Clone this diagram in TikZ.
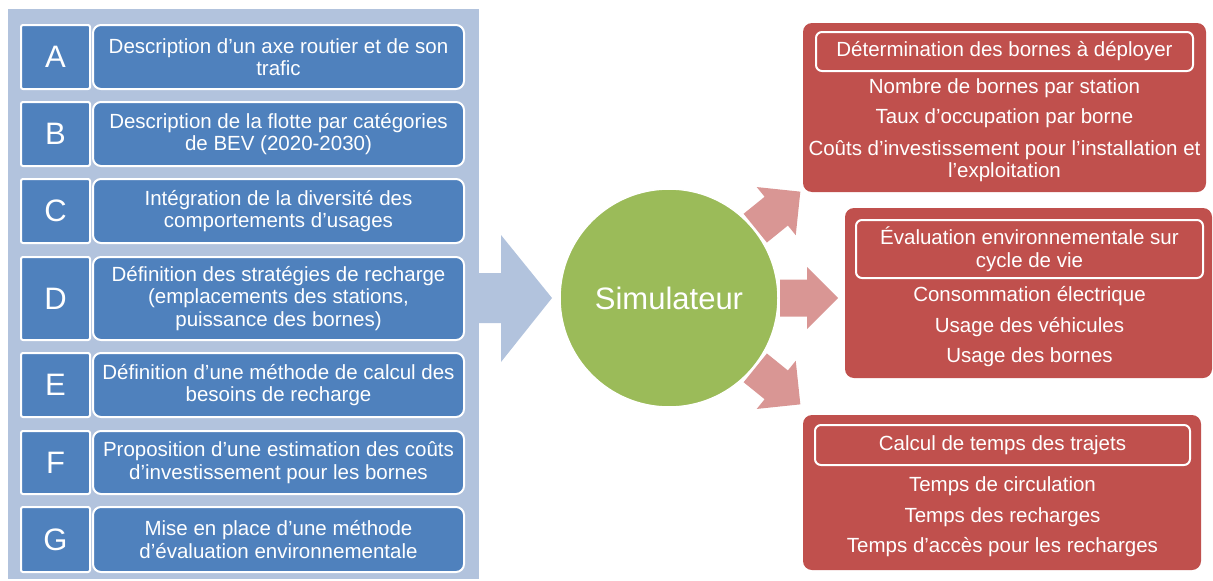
\documentclass[tikz,border=0pt]{standalone}
\usepackage{fontspec}
\setmainfont{Liberation Sans}
\usepackage{tikz}
\usetikzlibrary{positioning,calc}
\definecolor{panelblue}{HTML}{B2C3DD}
\definecolor{boxblue}{HTML}{4F81BD}
\definecolor{resred}{HTML}{C0504D}
\definecolor{arrowpink}{HTML}{D99694}
\definecolor{simgreen}{HTML}{9BBB59}
\newcommand{\txtsize}{\fontsize{20.5}{22.5}\selectfont}
\newcommand{\bigsize}{\fontsize{31}{34}\selectfont}

\tikzset{
  panelbox/.style={fill=panelblue, draw=none, inner sep=0pt, outer sep=0pt},
  letterbox/.style={fill=boxblue, draw=white, line width=2pt, rounded corners=2pt,
    minimum width=69pt, inner sep=0pt, outer sep=0pt, text=white, font=\bigsize},
  taskbox/.style={fill=boxblue, draw=white, line width=2pt, rounded corners=8pt,
    minimum width=371pt, inner sep=0pt, outer sep=0pt, text=white, align=center, font=\txtsize},
  simcircle/.style={circle, fill=simgreen, draw=white, line width=1.5pt, minimum size=218pt,
    inner sep=0pt, outer sep=0pt, text=white, font=\bigsize},
  inarrow/.style={fill=panelblue},
  outarrow/.style={fill=arrowpink},
  resbox/.style={fill=resred, draw=none, rounded corners=9pt, inner sep=0pt, outer sep=0pt},
  headbox/.style={draw=white, line width=2pt, rounded corners=6pt, inner sep=0pt,
    text=white, align=center, font=\txtsize},
  resline/.style={text=white, align=center, inner sep=0pt, font=\txtsize},
}

\begin{document}
\begin{tikzpicture}[x=1pt,y=-1pt]
\useasboundingbox (0,0) rectangle (1213,581);

% 1. Input panel (behind the rows)
\node[panelbox, minimum width=471pt, minimum height=570pt] (panel) at (243.5,294) {};

% 2. Rows A-G: letter + description
\foreach \lett/\yc/\hh/\rowtxt in {
  A/57/64/{Description d’un axe routier et de son\\trafic},
  B/134/64/{Description de la flotte par catégories\\de BEV (2020-2030)},
  C/211/64/{Intégration de la diversité des\\comportements d’usages},
  D/298.5/83/{Définition des stratégies de recharge\\(emplacements des stations,\\puissance des bornes)},
  E/385/64/{Définition d’une méthode de calcul des\\besoins de recharge},
  F/462.5/63/{Proposition d’une estimation des coûts\\d’investissement pour les bornes},
  G/539.5/65/{Mise en place d’une méthode\\d’évaluation environnementale}} {
  \node[letterbox, minimum height=\hh pt] (let\lett) at (55.5,\yc) {\lett};
  \node[taskbox, minimum height=\hh pt] (task\lett) at (278.5,\yc) {\rowtxt};
}

% 3. Simulator
\node[simcircle] (sim) at (669,298) {Simulateur};

% 4. Input arrow: panel -> simulator
\fill[inarrow] ($(panel.east |- sim.center)+(0,-25)$) -- ++(22,0) -- ++(0,-38)
  -- ($(sim.west)+(-8,0)$) -- ($(panel.east |- sim.center)+(22,64)$)
  -- ++(0,-39) -- ++(-22,0) -- cycle;

% 5. Output arrows, fanned round the simulator
\foreach \ang in {39,0,-39} {
  \fill[outarrow, shift={(sim.center)}, rotate=\ang]
    (111,-18.5) -- (138,-18.5) -- (138,-31) -- (169,0)
    -- (138,31) -- (138,18.5) -- (111,18.5) -- cycle;
}

% 6. Results
\node[resbox, minimum width=403pt, minimum height=169pt] (res1) at (1004.5,107.5) {};
\node[headbox, minimum width=377pt, minimum height=39pt] (head1) at (1004.5,51.5) {Détermination des bornes à déployer};
\node[resline] (res1a) at (1004.5,88) {Nombre de bornes par station};
\node[resline] (res1b) at (1004.5,118) {Taux d’occupation par borne};
\node[resline] (res1c) at (1004.5,161) {Coûts d’investissement pour l’installation et\\l’exploitation};

\node[resbox, minimum width=367pt, minimum height=170pt] (res2) at (1028.5,293) {};
\node[headbox, minimum width=347pt, minimum height=58pt] (head2) at (1029.5,249) {Évaluation environnementale sur\\cycle de vie};
\node[resline] (res2a) at (1029.5,296) {Consommation électrique};
\node[resline] (res2b) at (1029.5,327) {Usage des véhicules};
\node[resline] (res2c) at (1029.5,357) {Usage des bornes};

\node[resbox, minimum width=398pt, minimum height=155pt] (res3) at (1002,492.5) {};
\node[headbox, minimum width=375pt, minimum height=40pt] (head3) at (1002.5,445) {Calcul de temps des trajets};
\node[resline] (res3a) at (1002.5,486) {Temps de circulation};
\node[resline] (res3b) at (1002.5,517) {Temps des recharges};
\node[resline] (res3c) at (1002.5,547) {Temps d’accès pour les recharges};

\end{tikzpicture}
\end{document}
